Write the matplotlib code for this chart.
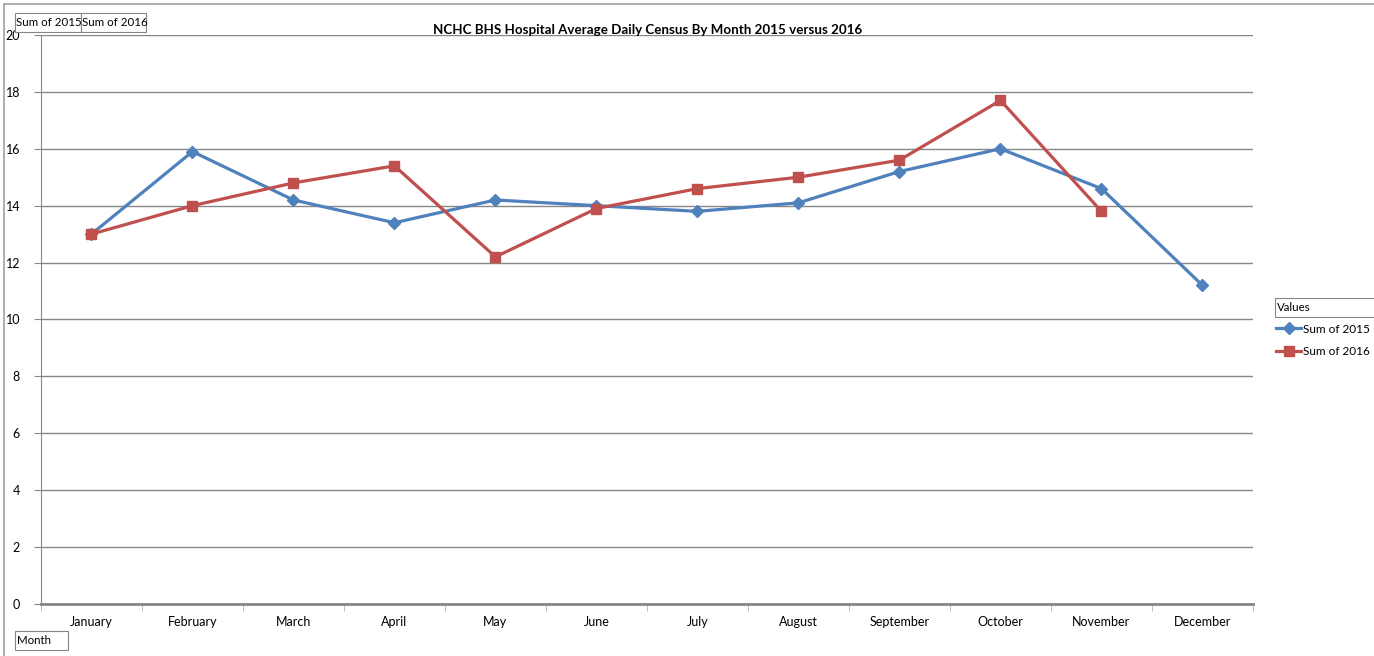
import numpy as np
import matplotlib.pyplot as plt
from matplotlib.lines import Line2D
from matplotlib.patches import Rectangle

plt.rcParams['font.family'] = ['Lato', 'DejaVu Sans']

# Chart data
months = ['January', 'February', 'March', 'April', 'May', 'June',
          'July', 'August', 'September', 'October', 'November', 'December']
sum_2015 = [13.0, 15.9, 14.2, 13.4, 14.2, 14.0, 13.8, 14.1, 15.2, 16.0, 14.6, 11.2]
sum_2016 = [13.0, 14.0, 14.8, 15.4, 12.2, 13.9, 14.6, 15.0, 15.6, 17.7, 13.8, np.nan]
y_ticks = [0, 2, 4, 6, 8, 10, 12, 14, 16, 18, 20]

blue = '#4F81BD'
red = '#C0504D'
grey = '#868686'

W, H = 1374, 656
fig = plt.figure(figsize=(W / 100, H / 100), dpi=100)
ax = fig.add_axes([0.0298, 0.0793, 0.8821, 0.8674])

x = np.arange(len(months))
l1, = ax.plot(x, sum_2015, color=blue, lw=2.3, marker='D', markersize=6.5, label='Sum of 2015')
l2, = ax.plot(x, sum_2016, color=red, lw=2.3, marker='s', markersize=7, label='Sum of 2016')

ax.set_xlim(-0.5, len(months) - 0.5)
ax.set_ylim(0, 20)
ax.set_yticks(y_ticks)
ax.set_yticklabels([str(v) for v in y_ticks], fontsize=9)
ax.set_xticks(x)
ax.set_xticklabels(months, fontsize=9)
ax.set_xticks(np.arange(-0.5, len(months)), minor=True)
ax.tick_params(axis='x', which='major', length=0, pad=9)
ax.tick_params(axis='x', which='minor', length=5, color='#b0b0b0', direction='out')
ax.tick_params(axis='y', length=5, color=grey, pad=10)

ax.yaxis.grid(True, color=grey, lw=1)
ax.set_axisbelow(True)
for s in ['top', 'right']:
    ax.spines[s].set_visible(False)
ax.spines['left'].set_color(grey)
ax.spines['bottom'].set_color(grey)
ax.spines['bottom'].set_linewidth(2)

fig.text(0.471, 0.954, 'NCHC BHS Hospital Average Daily Census By Month 2015 versus 2016',
         ha='center', va='center', fontsize=9.6, fontweight='bold')

# outer chart frame
fig.add_artist(Line2D([0.003, 1.0], [0.994, 0.994], color='#a0a0a0', lw=1.2))
fig.add_artist(Line2D([0.003, 0.003], [0.0, 0.994], color='#a0a0a0', lw=1.2))


def field_box(x0, y0, x1, y1, label):
    # pivot field buttons, given in pixel coords from top-left
    fig.add_artist(Rectangle((x0 / W, 1 - y1 / H), (x1 - x0) / W, (y1 - y0) / H,
                             transform=fig.transFigure, fc='white', ec=grey, lw=0.8))
    fig.text((x0 + 1.5) / W, 1 - (y0 + y1) / 2 / H, label, ha='left', va='center', fontsize=8.3)


field_box(15, 13, 81, 32, 'Sum of 2015')
field_box(81, 13, 146, 32, 'Sum of 2016')
field_box(15, 631, 68, 650, 'Month')
field_box(1275, 298, 1380, 317, 'Values')

fig.legend(handles=[l1, l2], loc='upper left', bbox_to_anchor=(0.9255, 0.514),
           frameon=False, fontsize=8.5, handlelength=2.1, handletextpad=0.12,
           labelspacing=0.95, borderaxespad=0)

fig.savefig('out.png', dpi=100)
